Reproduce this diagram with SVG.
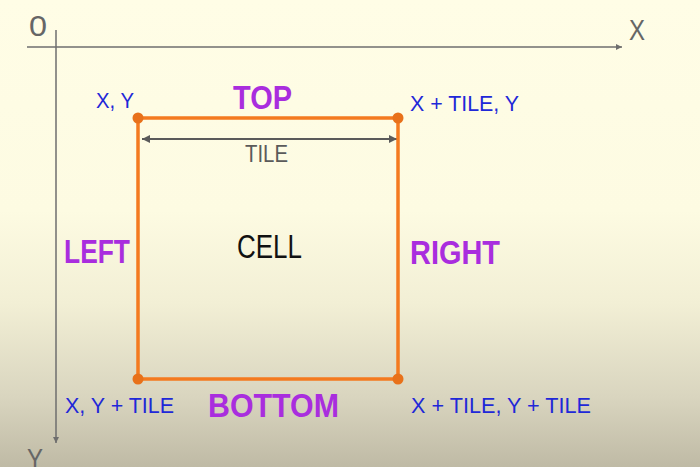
<svg xmlns="http://www.w3.org/2000/svg" width="700" height="467" viewBox="0 0 700 467">
<defs>
<linearGradient id="bg" x1="0" y1="0" x2="0" y2="1">
<stop offset="0" stop-color="#FFFDE6"/>
<stop offset="0.45" stop-color="#FDFBE2"/>
<stop offset="0.65" stop-color="#F2EFD5"/>
<stop offset="0.85" stop-color="#D9D5BF"/>
<stop offset="1" stop-color="#BFBAA5"/>
</linearGradient>
<marker id="axh" viewBox="0 0 10 10" refX="10" refY="5" markerWidth="6" markerHeight="6" markerUnits="userSpaceOnUse" orient="auto">
<path d="M0,0 L10,5 L0,10 z" fill="#6E6E6E"/>
</marker>
<marker id="dimh" viewBox="0 0 10 10" refX="10" refY="5" markerWidth="9" markerHeight="8" markerUnits="userSpaceOnUse" orient="auto-start-reverse">
<path d="M0,0 L10,5 L0,10 z" fill="#5A5A5A"/>
</marker>
<style>
.ax{stroke:#6E6E6E;stroke-width:1.5;fill:none}
.axl{font-family:"Liberation Sans",Arial,sans-serif;fill:#666;font-size:30px}
.blue{font-family:"Liberation Sans",Arial,sans-serif;fill:#1F28D8;font-size:22px}
.side{font-family:"Liberation Sans",Arial,sans-serif;font-weight:bold;fill:#A92DDE;font-size:33px}
.cell{stroke:#F47A1F;stroke-width:3.5;fill:none}
.dot{fill:#E8711A}
</style>
</defs>
<rect width="700" height="467" fill="url(#bg)"/>
<g id="connectors">
<line class="ax" x1="27" y1="47" x2="622" y2="47" marker-end="url(#axh)"/>
<line class="ax" x1="56" y1="30" x2="56" y2="443" marker-end="url(#axh)"/>
<line x1="142" y1="139" x2="397" y2="139" stroke="#5A5A5A" stroke-width="2" marker-start="url(#dimh)" marker-end="url(#dimh)"/>
</g>
<g id="axis-labels">
<text class="axl" x="29" y="36" textLength="18" lengthAdjust="spacingAndGlyphs">0</text>
<text class="axl" x="629" y="40" textLength="16" lengthAdjust="spacingAndGlyphs">X</text>
<text class="axl" x="27" y="469" textLength="16" lengthAdjust="spacingAndGlyphs">Y</text>
</g>
<g id="cell">
<rect class="cell" x="138" y="118" width="260" height="261"/>
<circle class="dot" cx="138" cy="118" r="5.5"/>
<circle class="dot" cx="398" cy="118" r="5.5"/>
<circle class="dot" cx="138" cy="379" r="5.5"/>
<circle class="dot" cx="398" cy="379" r="5.5"/>
<text x="237" y="258" font-family="Liberation Sans,Arial,sans-serif" font-size="33" fill="#111" textLength="65" lengthAdjust="spacingAndGlyphs">CELL</text>
</g>
<g id="tile-label">
<text x="245" y="162" font-family="Liberation Sans,Arial,sans-serif" font-size="23" fill="#5A5A5A" textLength="43" lengthAdjust="spacingAndGlyphs">TILE</text>
</g>
<g id="sides">
<text class="side" x="233" y="109" textLength="59" lengthAdjust="spacingAndGlyphs">TOP</text>
<text class="side" x="64" y="263" textLength="66" lengthAdjust="spacingAndGlyphs">LEFT</text>
<text class="side" x="410" y="264" textLength="90" lengthAdjust="spacingAndGlyphs">RIGHT</text>
<text class="side" x="208" y="417" textLength="131" lengthAdjust="spacingAndGlyphs" fill="#9E25CF">BOTTOM</text>
</g>
<g id="corners">
<text class="blue" x="96" y="108" textLength="38" lengthAdjust="spacingAndGlyphs">X, Y</text>
<text class="blue" x="410" y="111" textLength="109" lengthAdjust="spacingAndGlyphs">X + TILE, Y</text>
<text class="blue" x="65" y="413" textLength="109" lengthAdjust="spacingAndGlyphs">X, Y + TILE</text>
<text class="blue" x="411" y="413" textLength="180" lengthAdjust="spacingAndGlyphs">X + TILE, Y + TILE</text>
</g>
</svg>
